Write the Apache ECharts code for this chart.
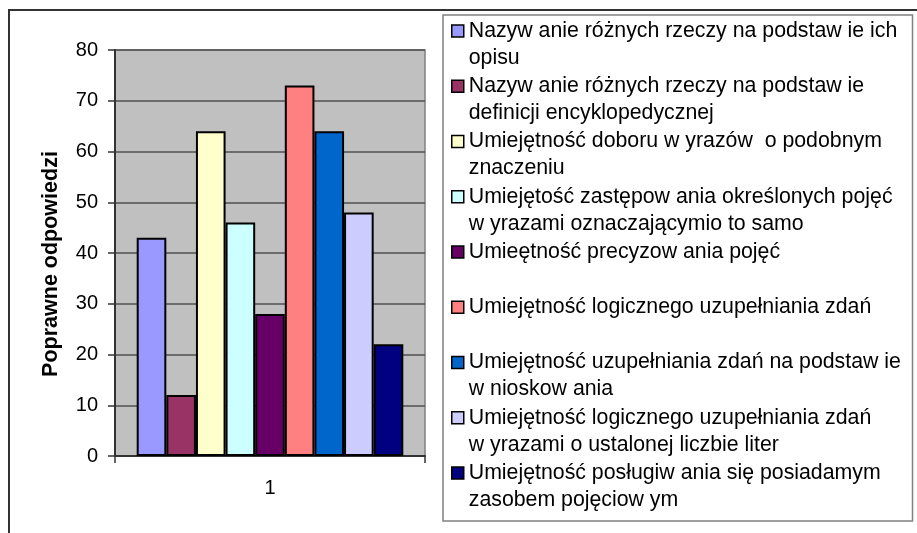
<!DOCTYPE html>
<html>
<head>
<meta charset="utf-8">
<script src="https://cdn.jsdelivr.net/npm/echarts@6/dist/echarts.min.js"></script>
<style>html,body{margin:0;padding:0;background:#fff;}#c{width:917px;height:533px;}</style>
</head>
<body>
<div id="c"></div>
<script>
var categories = ['1'];
var seriesLines = [
  ['Nazyw anie różnych rzeczy na podstaw ie ich', 'opisu'],
  ['Nazyw anie różnych rzeczy na podstaw ie', 'definicji encyklopedycznej'],
  ['Umiejętność doboru w yrazów  o podobnym', 'znaczeniu'],
  ['Umiejętość zastępow ania określonych pojęć', 'w yrazami oznaczającymio to samo'],
  ['Umieętność precyzow ania pojęć'],
  ['Umiejętność logicznego uzupełniania zdań'],
  ['Umiejętność uzupełniania zdań na podstaw ie', 'w nioskow ania'],
  ['Umiejętność logicznego uzupełniania zdań', 'w yrazami o ustalonej liczbie liter'],
  ['Umiejętność posługiw ania się posiadamym', 'zasobem pojęciow ym']
];
var values = [43, 12, 64, 46, 28, 73, 64, 48, 22];
var colors = ['#9999ff', '#993366', '#ffffcc', '#ccffff', '#660066', '#ff8080', '#0066cc', '#ccccff', '#000080'];
var yTicks = [0, 10, 20, 30, 40, 50, 60, 70, 80];
var yTitle = 'Poprawne odpowiedzi';

var FONT = '"Liberation Sans", Arial, sans-serif';
var names = seriesLines.map(function (l) { return l.join(' '); });
var nameToText = {};
seriesLines.forEach(function (l, i) {
  nameToText[names[i]] = '\n' + l[0] + '\n' + (l[1] || ' ');
});

var series = values.map(function (v, i) {
  return {
    type: 'bar',
    name: names[i],
    data: [v],
    barGap: '0%',
    barCategoryGap: '14%',
    itemStyle: { color: colors[i], borderColor: '#000', borderWidth: 2 }
  };
});

var chart = echarts.init(document.getElementById('c'), null, { renderer: 'canvas' });
chart.setOption({
  animation: false,
  backgroundColor: '#fff',
  textStyle: { fontFamily: FONT },
  graphic: [
    { type: 'rect', z: -10, shape: { x: 9, y: 10, width: 1000, height: 1000 },
      style: { fill: '#fff', stroke: '#333', lineWidth: 2 } },
    { type: 'rect', z: -5, shape: { x: 443, y: 15, width: 469.5, height: 506 },
      style: { fill: '#fff', stroke: '#808080', lineWidth: 1.5 } }
  ],
  grid: {
    left: 115, right: 492, top: 50, bottom: 77,
    show: true, backgroundColor: '#c0c0c0', borderColor: '#808080', borderWidth: 1.5,
    containLabel: false
  },
  legend: {
    orient: 'vertical',
    left: 451, top: -9.5,
    padding: 0,
    itemGap: -25.75,
    itemWidth: 12, itemHeight: 12,
    icon: 'rect',
    selectedMode: false,
    data: names,
    itemStyle: { borderColor: '#000', borderWidth: 1.5 },
    formatter: function (n) { return nameToText[n]; },
    textStyle: { fontFamily: FONT, fontSize: 21.3, lineHeight: 27, color: '#000' }
  },
  xAxis: {
    type: 'category',
    data: categories,
    boundaryGap: true,
    axisLine: { lineStyle: { color: '#333', width: 2 } },
    axisTick: { show: true, length: 7, lineStyle: { color: '#333', width: 1.5 } },
    axisLabel: { fontFamily: FONT, fontSize: 20, color: '#000', margin: 22 },
    splitLine: { show: false }
  },
  yAxis: {
    type: 'value',
    min: 0, max: 80, interval: 10,
    name: yTitle,
    nameLocation: 'middle',
    nameGap: 53,
    nameRotate: 90,
    nameTextStyle: { fontFamily: FONT, fontSize: 21.5, fontWeight: 'bold', color: '#000', padding: [0, 22, 0, 0] },
    axisLine: { show: true, lineStyle: { color: '#333', width: 2 } },
    axisTick: { show: true, length: 7, lineStyle: { color: '#333', width: 1.5 } },
    axisLabel: {
      fontFamily: FONT, fontSize: 20, color: '#000', margin: 17,
      formatter: function (v) { return yTicks.indexOf(v) >= 0 ? String(v) : ''; }
    },
    splitLine: { show: true, lineStyle: { color: '#505050', width: 1.5 } }
  },
  series: series
});
</script>
</body>
</html>
